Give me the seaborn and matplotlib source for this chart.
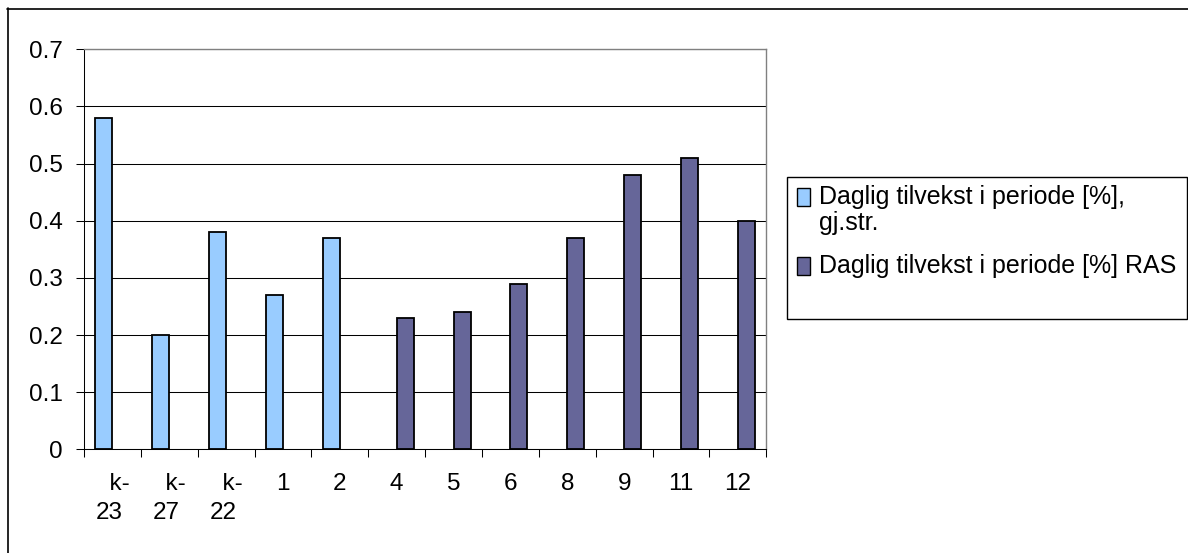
import matplotlib
matplotlib.use("Agg")
import matplotlib.pyplot as plt
import seaborn as sns
import pandas as pd
from matplotlib.patches import Rectangle, Patch
from matplotlib.lines import Line2D
from matplotlib.legend_handler import HandlerPatch

# ---------------- data ----------------
categories = ["k-23", "k-27", "k-22", "1", "2", "4", "5", "6", "8", "9", "11", "12"]
x_tick_labels = ["  k-\n23", "  k-\n27", "  k-\n22", "1", "2", "4", "5", "6", "8", "9", "11", "12"]
series_names = ["Daglig tilvekst i periode [%], gj.str.",
                "Daglig tilvekst i periode [%] RAS"]
avg_categories = ["k-23", "k-27", "k-22", "1", "2"]
avg_values = [0.58, 0.20, 0.38, 0.27, 0.37]
ras_categories = ["4", "5", "6", "8", "9", "11", "12"]
ras_values = [0.23, 0.24, 0.29, 0.37, 0.48, 0.51, 0.40]
colors = ["#99CCFF", "#666699"]
y_ticks = [0, 0.1, 0.2, 0.3, 0.4, 0.5, 0.6, 0.7]
y_tick_labels = ["0", "0.1", "0.2", "0.3", "0.4", "0.5", "0.6", "0.7"]

df = pd.DataFrame({
    "cat": avg_categories + ras_categories,
    "val": avg_values + ras_values,
    "series": [series_names[0]] * len(avg_values) + [series_names[1]] * len(ras_values),
})

# ---------------- style ----------------
sns.set_theme(style="white")
plt.rcParams["font.family"] = ["Liberation Sans", "DejaVu Sans"]
plt.rcParams["text.color"] = "black"
plt.rcParams["xtick.color"] = "black"
plt.rcParams["ytick.color"] = "black"

W, H = 1188, 553
fig = plt.figure(figsize=(W / 100, H / 100), dpi=100)
fig.patch.set_facecolor("white")

ax_left, ax_right, ax_top, ax_bottom = 84, 766.3, 49.3, 449.3
ax = fig.add_axes([ax_left / W, 1 - ax_bottom / H,
                   (ax_right - ax_left) / W, (ax_bottom - ax_top) / H])

sns.barplot(data=df, x="cat", y="val", hue="series", order=categories,
            hue_order=series_names, palette=colors, saturation=1,
            width=0.6, dodge=True, edgecolor="black", linewidth=1.3,
            legend=False, ax=ax, zorder=3)

ax.set_xlim(-0.5, len(categories) - 0.5)
ax.set_ylim(0, 0.7)
ax.set_xlabel("")
ax.set_ylabel("")

# y axis
ax.set_yticks(y_ticks)
ax.set_yticklabels(y_tick_labels, fontsize=17.5)
ax.yaxis.grid(True, color="black", linewidth=0.75)
ax.xaxis.grid(False)
ax.set_axisbelow(True)
ax.tick_params(axis="y", which="major", left=True, length=5.8, width=0.75,
               pad=9.4, direction="out")

# x axis: labels at centers, tick marks at category boundaries
ax.set_xticks(range(len(categories)))
ax.set_xticklabels(x_tick_labels, fontsize=17.5, linespacing=1.4,
                   multialignment="left")
ax.tick_params(axis="x", which="major", bottom=True, length=0, pad=17)
ax.set_xticks([i - 0.5 for i in range(len(categories) + 1)], minor=True)
ax.tick_params(axis="x", which="minor", bottom=True, length=5.8, width=0.75,
               direction="out", color="black")

for side in ["left", "bottom"]:
    ax.spines[side].set_color("black")
    ax.spines[side].set_linewidth(0.75)
for side in ["top", "right"]:
    ax.spines[side].set_color("#808080")
    ax.spines[side].set_linewidth(1.0)

# ---------------- legend ----------------
handles = [Patch(facecolor=c, edgecolor="black", linewidth=1.0) for c in colors]
leg_labels = ["Daglig tilvekst i periode [%],", series_names[1]]
leg = fig.legend(handles, leg_labels, loc="upper left",
                 bbox_to_anchor=(797 / W, 1 - 185 / H),
                 frameon=False, borderpad=0, borderaxespad=0,
                 handlelength=0.52, handleheight=0.45, handletextpad=0.36,
                 labelspacing=1.8, fontsize=18,
                 handler_map={Patch: HandlerPatch(ypad=-0.15)})
fig.text(819 / W, 1 - 230 / H, "gj.str.", fontsize=18, va="baseline", ha="left")
fig.add_artist(Rectangle((787 / W, 1 - 319 / H), (1187 - 787) / W, (319 - 177) / H,
                         transform=fig.transFigure, fill=False,
                         edgecolor="black", linewidth=1.0))

# outer chart border (left and top visible)
fig.add_artist(Line2D([7.5 / W, 7.5 / W], [0, 1 - 8 / H], transform=fig.transFigure,
                      color="black", linewidth=1.2))
fig.add_artist(Line2D([7 / W, 1], [1 - 8.5 / H, 1 - 8.5 / H], transform=fig.transFigure,
                      color="black", linewidth=1.2))

fig.savefig("out.png", dpi=100)
